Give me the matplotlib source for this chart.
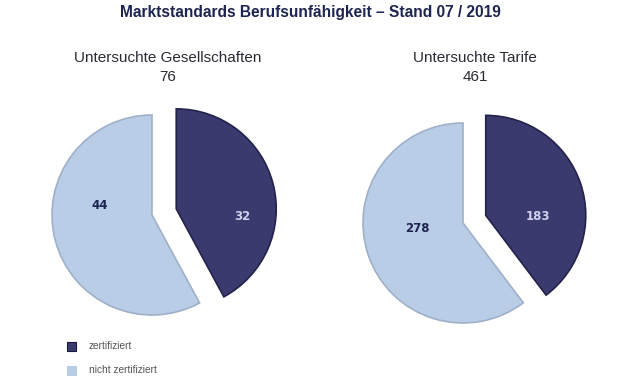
import numpy as np
import matplotlib.pyplot as plt
from matplotlib.patches import Rectangle

title = 'Marktstandards Berufsunfähigkeit – Stand 07 / 2019'
pie_titles = ['Untersuchte Gesellschaften', 'Untersuchte Tarife']
totals = [76, 461]
zertifiziert = [32, 183]
nicht_zertifiziert = [44, 278]
legend_labels = ['zertifiziert', 'nicht zertifiziert']

dark = '#3b3a6e'
light = '#b9cde6'

fig = plt.figure(figsize=(6.21, 3.83), dpi=100)
ax = fig.add_axes([0, 0, 1, 1])

fig.text(0.5, 1 - 13 / 383, title, ha='center', va='center', fontsize=11.2,
         fontweight='bold', color='#1e2550', family='Liberation Sans')

# pie layout (pixel coords, y down)
centers = [(152, 215), (463, 223)]
header_x = [168, 475]
radius = 100
explode_px = [25, 24]  # explode is in data units, not radius fractions
label_shift = [(-21, -24), (-20, -12)]  # screen degrees, roughly where excel put them
label_dist = [(0.67, 0.53), (0.52, 0.46)]

for i in range(2):
    cx, cy = centers[i]
    vals = [zertifiziert[i], nicht_zertifiziert[i]]
    # y axis inverted -> angles run clockwise on screen
    wedges, _ = ax.pie(vals, colors=[dark, light], startangle=-90, counterclock=True,
                       explode=[explode_px[i], 0], center=(cx, cy), radius=radius,
                       wedgeprops=dict(linewidth=1.2), frame=True)
    wedges[0].set_edgecolor('#23224a')
    wedges[1].set_edgecolor('#9fb0c8')
    for w, v, tc, sh, d in zip(wedges, vals, ['#d0d0ee', '#1e2550'], label_shift[i], label_dist[i]):
        mid = np.deg2rad((w.theta1 + w.theta2) / 2 - sh)
        x = w.center[0] + radius * d * np.cos(mid)
        y = w.center[1] + radius * d * np.sin(mid)
        ax.text(x, y, str(v), ha='center', va='center', fontsize=8.5,
                fontweight='bold', color=tc, family='DejaVu Sans')
    ax.text(header_x[i], 58, pie_titles[i], ha='center', va='center', fontsize=11,
            color='#2a2a35', family='Liberation Sans')
    ax.text(header_x[i], 77, str(totals[i]), ha='center', va='center', fontsize=11,
            color='#2a2a35', family='Liberation Sans')

for k, (lab, c, ec) in enumerate(zip(legend_labels, [dark, light], ['#1a1a3a', light])):
    y = 346 + k * 24
    ax.add_patch(Rectangle((67, y - 4.5), 9, 9, facecolor=c, edgecolor=ec, linewidth=0.8))
    ax.text(89, y, lab, ha='left', va='center', fontsize=7.3, color='#555555',
            family='Liberation Sans')

ax.set_xlim(0, 621)
ax.set_ylim(383, 0)
ax.set_aspect('equal')
ax.axis('off')

fig.savefig('out.png', dpi=100)
